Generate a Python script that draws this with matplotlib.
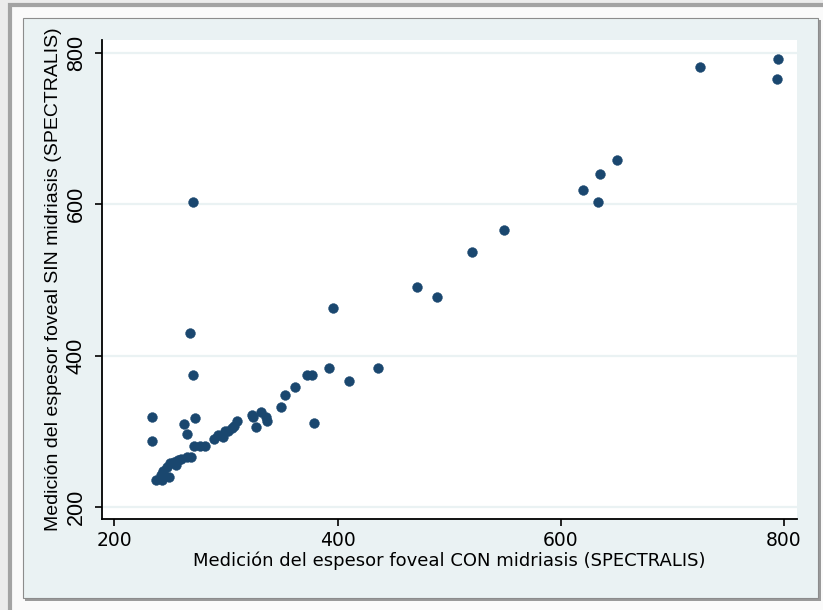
import matplotlib.pyplot as plt
from matplotlib.patches import Rectangle

# foveal thickness, with and without mydriasis (SPECTRALIS)
con_midriasis = [234, 234, 262, 265, 272, 237, 243, 242, 244, 247, 249, 250, 253,
                 255, 257, 260, 265, 269, 271, 277, 281, 289, 293, 297, 299, 302,
                 305, 307, 310, 323, 324, 331, 327, 336, 337, 349, 379, 353, 362,
                 373, 377, 392, 436, 410, 396, 471, 489, 520, 549, 620, 633, 635,
                 650, 725, 795, 794, 270, 268, 270]
sin_midriasis = [319, 287, 309, 297, 317, 235, 235, 242, 248, 253, 239, 258, 260,
                 255, 262, 264, 266, 266, 280, 280, 280, 290, 295, 293, 300, 301,
                 304, 307, 314, 322, 319, 325, 306, 319, 314, 332, 311, 348, 359,
                 375, 375, 383, 383, 367, 463, 491, 478, 537, 566, 619, 603, 640,
                 659, 781, 792, 765, 603, 430, 375]

ticks = [200, 400, 600, 800]

W, H = 823, 610
fig = plt.figure(figsize=(W / 100, H / 100), dpi=100)
fig.patch.set_facecolor('#ececec')


def box(x0, y0, x1, y1, **kw):
    # rectangle given in pixels, measured from the top-left corner
    r = Rectangle((x0 / W, 1 - y1 / H), (x1 - x0) / W, (y1 - y0) / H,
                  transform=fig.transFigure, zorder=-10, **kw)
    fig.add_artist(r)


# frame, drop shadow and graph region
box(10, 5, W + 20, H + 20, facecolor='#fafafa', edgecolor='#a3a3a3', lw=3)
box(25, 20, 821, 601, facecolor='#9a9a9a', edgecolor='none')
box(23, 18, 818, 598, facecolor='#eaf2f3', edgecolor='#8c8c8c', lw=0.8)

ax = fig.add_axes([102 / W, 1 - 519 / H, 695 / W, 479 / H])
ax.set_facecolor('white')
ax.scatter(con_midriasis, sin_midriasis, s=50, color='#1a476f',
           edgecolors='#1a476f', linewidths=0.3, zorder=3)

ax.set_xlim(188.9, 811.6)
ax.set_ylim(184.1, 817.1)
ax.set_xticks(ticks)
ax.set_yticks(ticks)
ax.grid(axis='y', color='#eaf2f3', lw=1.6, zorder=0)
ax.set_axisbelow(True)

for side in ['top', 'right']:
    ax.spines[side].set_visible(False)
for side in ['left', 'bottom']:
    ax.spines[side].set_linewidth(1.3)
    ax.spines[side].set_color('black')

ax.tick_params(axis='both', direction='out', length=5, width=1.2, color='black')
ax.tick_params(axis='x', pad=4, labelsize=13.5)
ax.tick_params(axis='y', pad=6, labelsize=15.5)
for t in ax.get_yticklabels():
    t.set_rotation(90)
    t.set_va('center')
    t.set_family('Liberation Sans')
for t in ax.get_xticklabels():
    t.set_family('DejaVu Sans')

ax.set_xlabel('Medición del espesor foveal CON midriasis (SPECTRALIS)',
              fontsize=13, family='DejaVu Sans')
ax.set_ylabel('Medición del espesor foveal SIN midriasis (SPECTRALIS)',
              fontsize=14, family='Liberation Sans')
ax.xaxis.set_label_coords(449.6 / W, 1 - 551 / H, transform=fig.transFigure)
ax.yaxis.set_label_coords(62 / W, 1 - 279 / H, transform=fig.transFigure)

fig.savefig('out.png', dpi=100, facecolor=fig.get_facecolor())
